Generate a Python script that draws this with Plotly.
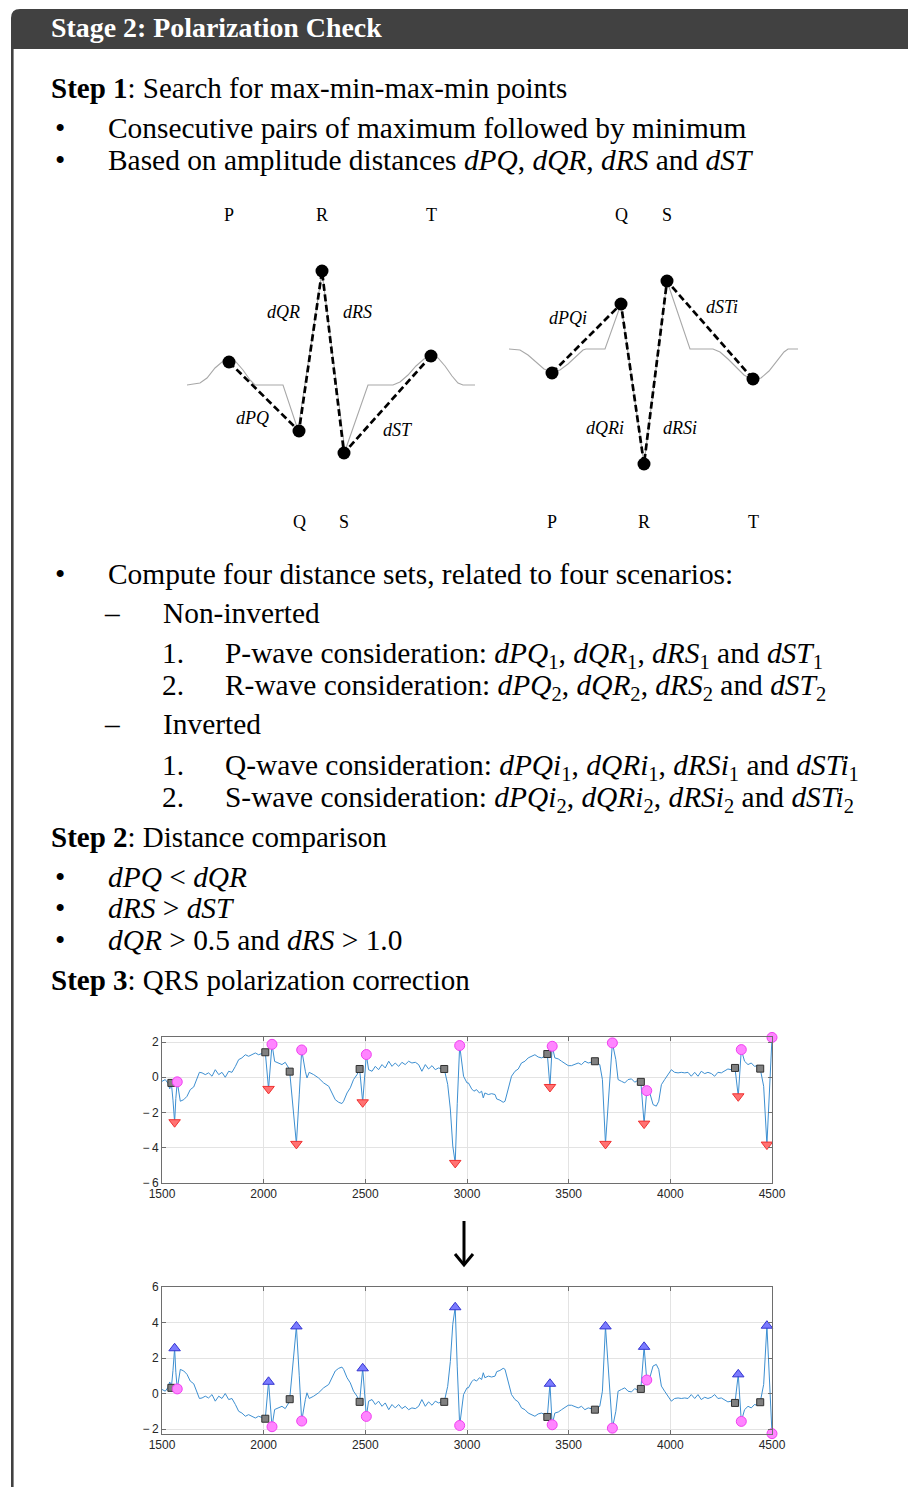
import plotly.graph_objects as go

W, H = 908, 1488
def PX(x): return min(1.0, max(0.0, x / W))
def PY(y): return min(1.0, max(0.0, 1 - y / H))

SERIF = "Liberation Serif"
SANS = "Liberation Sans"

# ---------------- ECG signal (top: original, bottom: corrected = inverted) ----------------
sig_x = [1500, 1516, 1530, 1538, 1543, 1546, 1554, 1562, 1568, 1575, 1590, 1607, 1623, 1639, 1656,
         1672, 1684, 1697, 1713, 1729, 1746, 1762, 1779, 1795, 1811, 1828, 1844, 1861, 1877, 1893,
         1910, 1926, 1943, 1959, 1975, 1992, 2008, 2024, 2041, 2054, 2074, 2090, 2106, 2123, 2128,
         2145, 2161, 2175, 2187, 2205, 2213, 2224, 2246, 2270, 2295, 2320, 2336, 2352, 2369, 2385,
         2393, 2410, 2426, 2442, 2459, 2472, 2487, 2505, 2516, 2533, 2549, 2565, 2582, 2598, 2615,
         2631, 2647, 2664, 2680, 2696, 2713, 2729, 2746, 2762, 2778, 2795, 2811, 2828, 2844, 2860,
         2877, 2888, 2905, 2918, 2930, 2942, 2952, 2964, 2983, 3000, 3007, 3023, 3034, 3047, 3061,
         3072, 3080, 3088, 3105, 3121, 3138, 3146, 3162, 3178, 3187, 3203, 3219, 3236, 3252, 3268,
         3285, 3301, 3318, 3334, 3350, 3367, 3383, 3395, 3408, 3419, 3432, 3449, 3465, 3481, 3498,
         3514, 3530, 3547, 3563, 3580, 3596, 3612, 3629, 3653, 3666, 3681, 3698, 3715, 3732, 3743,
         3760, 3776, 3792, 3809, 3825, 3841, 3855, 3871, 3884, 3899, 3915, 3931, 3943, 3956, 3972,
         3989, 4005, 4021, 4038, 4054, 4071, 4087, 4103, 4120, 4136, 4152, 4169, 4185, 4202, 4218,
         4234, 4251, 4267, 4283, 4300, 4318, 4334, 4349, 4365, 4382, 4398, 4414, 4427, 4442, 4459,
         4475, 4500]
sig_y = [-0.23, -0.13, -0.35, -0.65, -0.5, -0.32, -1.3, -2.55, -1.2, -0.26, -1.36, -1.27, -1.08, -0.7, -0.55,
         -0.13, 0.28, 0.25, 0.15, 0.25, 0.06, 0.43, 0.15, 0.28, 0.0, 0.34, 0.28, 0.62, 1.0, 1.1,
         1.28, 1.19, 1.28, 1.38, 1.28, 1.34, 1.42, -0.66, 1.87, 0.9, 0.81, 0.72, 0.85, 0.53, 0.32,
         -1.6, -3.78, -1.0, 1.55, 0.34, -0.04, 0.28, 0.15, -0.04, -0.32, -0.51, -0.89, -1.27, -1.42, -1.49,
         -1.36, -0.89, -0.6, -0.13, 0.15, 0.47, -1.42, 1.29, 0.43, 0.34, 0.62, 0.43, 0.72, 0.53, 0.91,
         0.62, 0.81, 0.62, 0.85, 0.72, 0.91, 0.81, 0.85, 0.72, 0.34, 0.72, 0.47, 0.66, 0.43, 0.53,
         0.47, 0.47, -0.4, -1.8, -3.9, -4.86, -1.5, 1.8, 0.06, -0.32, -0.32, -0.66, -0.79, -0.7, -0.89,
         -0.79, -1.17, -0.89, -0.98, -0.93, -0.98, -1.23, -1.3, -1.42, -1.36, -0.6, 0.06, 0.34, 0.47, 0.81,
         0.91, 1.1, 1.19, 1.28, 1.15, 1.1, 1.19, 1.32, -0.55, 1.76, 1.1, 1.04, 0.91, 0.81, 0.66,
         0.66, 0.72, 0.81, 0.72, 0.91, 0.81, 0.87, 0.91, 0.72, -0.13, -3.78, -1.0, 1.95, 1.0, -0.13,
         -0.23, -0.32, -0.13, -0.09, -0.28, -0.17, -0.26, -2.63, -0.76, -0.89, -1.55, -1.64, -1.36, -0.42, -0.13,
         0.15, 0.43, 0.28, 0.25, 0.28, 0.25, 0.28, 0.06, 0.28, 0.06, 0.34, 0.21, 0.28, 0.21, 0.06,
         0.28, 0.25, 0.34, 0.47, 0.43, 0.53, -1.08, 1.57, 0.91, 0.72, 0.81, 0.62, 0.66, 0.49, -0.51,
         -3.82, 2.26]

# detected fiducial positions (sample index)
sq_pos = [1546, 2008, 2128, 2472, 2888, 3395, 3629, 3855, 4318, 4442]
min_pos = [1562, 2024, 2161, 2487, 2942, 3408, 3681, 3871, 4334, 4475]
max_pos = [1575, 2041, 2187, 2505, 2964, 3419, 3715, 3884, 4349, 4500]

x_ticks = [1500, 2000, 2500, 3000, 3500, 4000, 4500]
y_ticks_top = [-6, -4, -2, 0, 2]
y_ticks_bot = [-2, 0, 2, 4, 6]

# ---------------- Schematic diagrams ----------------
d1_wave_t = [7, 20, 27, 35, 42, 49, 56, 63, 70, 75, 103, 118, 142, 165, 188, 213, 220, 228, 236, 244,
             251, 258, 265, 272, 278, 283, 295]
d1_wave_a = [0, 0.04, 0.14, 0.34, 0.46, 0.5, 0.46, 0.3, 0.1, 0, 0, -0.9, 2.26, -1.32, 0, 0, 0.06, 0.2, 0.38, 0.52,
             0.58, 0.54, 0.38, 0.18, 0.04, 0, 0]
d1_pt_t = [49, 119, 142, 164, 251]
d1_pt_a = [0.46, -0.92, 2.28, -1.36, 0.58]
d1_names = ["P", "Q", "R", "S", "T"]

d2_wave_t = [9, 20, 28, 36, 44, 52, 60, 68, 76, 83, 86, 105, 121, 144, 167, 190, 213, 220, 228, 236,
             244, 253, 261, 269, 277, 284, 288, 298]
d2_wave_a = [0, -0.02, -0.12, -0.26, -0.4, -0.46, -0.42, -0.3, -0.14, -0.02, 0, 0, 0.9, -2.3, 1.36, 0, 0, -0.06,
             -0.2, -0.36, -0.52, -0.62, -0.58, -0.44, -0.24, -0.06, 0, 0]
d2_pt_t = [52, 121, 144, 167, 253]
d2_pt_a = [-0.48, 0.9, -2.3, 1.36, -0.6]
d2_names = ["P", "Q", "R", "S", "T"]

fig = go.Figure()

# ---- ECG plots ----
val = dict(zip(sig_x, sig_y))

def add_ecg(xa, ya, sign, tri_symbol, tri_fill, tri_line):
    fig.add_trace(go.Scatter(x=sig_x, y=[sign * v for v in sig_y], mode="lines",
                             line=dict(color="#3d8fd1", width=1), xaxis=xa, yaxis=ya,
                             showlegend=False, hoverinfo="skip"))
    fig.add_trace(go.Scatter(x=sq_pos, y=[sign * val[p] for p in sq_pos], mode="markers",
                             marker=dict(symbol="square", size=7, color="#808080",
                                         line=dict(color="#303030", width=1)),
                             xaxis=xa, yaxis=ya, showlegend=False, cliponaxis=False))
    fig.add_trace(go.Scatter(x=min_pos, y=[sign * val[p] for p in min_pos], mode="markers",
                             marker=dict(symbol=tri_symbol, size=10, color=tri_fill,
                                         line=dict(color=tri_line, width=1)),
                             xaxis=xa, yaxis=ya, showlegend=False, cliponaxis=False))
    fig.add_trace(go.Scatter(x=max_pos, y=[sign * val[p] for p in max_pos], mode="markers",
                             marker=dict(symbol="circle", size=10, color="#ff85ff",
                                         line=dict(color="#f040f0", width=1)),
                             xaxis=xa, yaxis=ya, showlegend=False, cliponaxis=False))

add_ecg("x", "y", 1, "triangle-down", "#ff7272", "#f03030")
add_ecg("x2", "y2", -1, "triangle-up", "#7b7bff", "#3535d0")

# ---- schematic diagrams ----
for xa, ya, wt, wa, pt, pa in [("x3", "y3", d1_wave_t, d1_wave_a, d1_pt_t, d1_pt_a),
                                ("x4", "y4", d2_wave_t, d2_wave_a, d2_pt_t, d2_pt_a)]:
    fig.add_trace(go.Scatter(x=wt, y=wa, mode="lines", line=dict(color="#a8a8a8", width=1.1),
                             xaxis=xa, yaxis=ya, showlegend=False, hoverinfo="skip"))
    fig.add_trace(go.Scatter(x=pt, y=pa, mode="lines+markers",
                             line=dict(color="black", width=2.7, dash="7px,3.5px"),
                             marker=dict(color="black", size=13),
                             xaxis=xa, yaxis=ya, showlegend=False, hoverinfo="skip"))

axis_common = dict(showgrid=True, gridcolor="#e3e3e3", gridwidth=1, zeroline=False,
                   showline=True, linecolor="#6e6e6e", linewidth=1, mirror="ticks",
                   ticks="inside", ticklen=4, tickcolor="#6e6e6e", automargin=False,
                   tickfont=dict(family=SANS, size=12, color="#262626"))

def minus_lbl(v):
    return ("\u2212\u2009" + str(abs(v))) if v < 0 else str(v)

hidden = dict(visible=False, showgrid=False, zeroline=False, fixedrange=True)

fig.update_layout(
    width=W, height=H, margin=dict(l=0, r=0, t=0, b=0, pad=0, autoexpand=False),
    paper_bgcolor="white", plot_bgcolor="white", showlegend=False,
    xaxis=dict(domain=[PX(162), PX(772)], range=[1500, 4500], tickvals=x_ticks, anchor="y", **axis_common),
    yaxis=dict(domain=[PY(1183), PY(1037.1)], range=[-6, 2.28], tickvals=y_ticks_top,
               ticktext=[minus_lbl(v) for v in y_ticks_top], anchor="x", **axis_common),
    xaxis2=dict(domain=[PX(162), PX(772)], range=[1500, 4500], tickvals=x_ticks, anchor="y2", **axis_common),
    yaxis2=dict(domain=[PY(1434), PY(1287)], range=[-2.28, 6], tickvals=y_ticks_bot,
                ticktext=[minus_lbl(v) for v in y_ticks_bot], anchor="x2", **axis_common),
    xaxis3=dict(domain=[PX(180), PX(480)], range=[0, 300], anchor="y3", **hidden),
    yaxis3=dict(domain=[PY(540), PY(190)], range=[-3.1, 3.9], anchor="x3", **hidden),
    xaxis4=dict(domain=[PX(500), PX(810)], range=[0, 310], anchor="y4", **hidden),
    yaxis4=dict(domain=[PY(540), PY(190)], range=[-3.82, 3.18], anchor="x4", **hidden),
)

# ---------------- frame ----------------
r = 9
x0, x1, yt, yb = 11, 908, 9, 49
path = (f"M {PX(x0)},{PY(yb)} L {PX(x0)},{PY(yt + r)} Q {PX(x0)},{PY(yt)} {PX(x0 + r)},{PY(yt)} "
        f"L {PX(x1)},{PY(yt)} L {PX(x1)},{PY(yb)} Z")
fig.add_shape(type="path", path=path, xref="paper", yref="paper", fillcolor="#414141",
              line=dict(width=0), layer="below")
fig.add_shape(type="line", x0=PX(12.3), x1=PX(12.3), y0=PY(49), y1=PY(1487), xref="paper", yref="paper",
              line=dict(color="#414141", width=2.6))
# arrow between plots
fig.add_shape(type="line", x0=PX(464), x1=PX(464), y0=PY(1221), y1=PY(1264), xref="paper", yref="paper",
              line=dict(color="black", width=3))
fig.add_shape(type="path", path=f"M {PX(455)},{PY(1254)} L {PX(464)},{PY(1265)} L {PX(473)},{PY(1254)}",
              xref="paper", yref="paper", line=dict(color="black", width=3))

# ---------------- text ----------------
BODY = 29.4
STEP = 29.0
PAD = 3      # annotation inner padding compensation
SUBDY = 1.5  # lines with subscripts have a taller box; push them down to share the baseline
def txt(x, y, s, size=BODY, color="black", family=SERIF):
    fig.add_annotation(x=PX(x - PAD), y=PY(y), xref="paper", yref="paper", text=s, showarrow=False,
                       xanchor="left", yanchor="middle", font=dict(family=family, size=size, color=color))

def ctr(x, y, s, size=BODY):
    fig.add_annotation(x=PX(x), y=PY(y), xref="paper", yref="paper", text=s, showarrow=False,
                       xanchor="center", yanchor="middle", font=dict(family=SERIF, size=size, color="black"))

txt(52, 28, "<b>Stage 2: Polarization Check</b>", size=27.9, color="white")

txt(52, 88, "<b>Step 1</b>: Search for max-min-max-min points", size=STEP)
ctr(60, 128, "•"); txt(109, 128, "Consecutive pairs of maximum followed by minimum")
ctr(60, 160, "•"); txt(109, 160, "Based on amplitude distances <i>dPQ</i>, <i>dQR</i>, <i>dRS</i> and <i>dST</i>")
ctr(60, 574, "•"); txt(109, 574, "Compute four distance sets, related to four scenarios:")
ctr(112, 613, "–"); txt(164, 613, "Non-inverted")
txt(163, 653, "1."); txt(226, 653 + SUBDY, "P-wave consideration: <i>dPQ</i><sub>1</sub>, <i>dQR</i><sub>1</sub>, <i>dRS</i><sub>1</sub> and <i>dST</i><sub>1</sub>")
txt(163, 685, "2."); txt(226, 685 + SUBDY, "R-wave consideration: <i>dPQ</i><sub>2</sub>, <i>dQR</i><sub>2</sub>, <i>dRS</i><sub>2</sub> and <i>dST</i><sub>2</sub>")
ctr(112, 724, "–"); txt(164, 724, "Inverted")
txt(163, 765, "1."); txt(226, 765 + SUBDY, "Q-wave consideration: <i>dPQi</i><sub>1</sub>, <i>dQRi</i><sub>1</sub>, <i>dRSi</i><sub>1</sub> and <i>dSTi</i><sub>1</sub>")
txt(163, 797, "2."); txt(226, 797 + SUBDY, "S-wave consideration: <i>dPQi</i><sub>2</sub>, <i>dQRi</i><sub>2</sub>, <i>dRSi</i><sub>2</sub> and <i>dSTi</i><sub>2</sub>")
txt(52, 837, "<b>Step 2</b>: Distance comparison", size=STEP)
ctr(60, 877, "•"); txt(109, 877, "<i>dPQ</i> &lt; <i>dQR</i>")
ctr(60, 908, "•"); txt(109, 908, "<i>dRS</i> &gt; <i>dST</i>")
ctr(60, 940, "•"); txt(109, 940, "<i>dQR</i> &gt; 0.5 and <i>dRS</i> &gt; 1.0")
txt(52, 980, "<b>Step 3</b>: QRS polarization correction", size=STEP)

# diagram labels
def dlabel(xa, ya, x, y, s, italic=False):
    fig.add_annotation(x=x, y=y, xref=xa, yref=ya, text=(f"<i>{s}</i>" if italic else s), showarrow=False,
                       xanchor="center", yanchor="middle", font=dict(family=SERIF, size=18, color="black"))

top1, bot1 = 3.4, -2.74
for n, t, a in zip(d1_names, d1_pt_t, d1_pt_a):
    dlabel("x3", "y3", t, top1 if a > 0 else bot1, n)
dlabel("x3", "y3", 103, 1.46, "dQR", True)
dlabel("x3", "y3", 177, 1.46, "dRS", True)
dlabel("x3", "y3", 72, -0.66, "dPQ", True)
dlabel("x3", "y3", 218, -0.9, "dST", True)

top2, bot2 = 2.68, -3.46
for n, t, a in zip(d2_names, d2_pt_t, d2_pt_a):
    dlabel("x4", "y4", t, top2 if a > 0 else bot2, n)
dlabel("x4", "y4", 68, 0.62, "dPQi", True)
dlabel("x4", "y4", 222, 0.84, "dSTi", True)
dlabel("x4", "y4", 105, -1.58, "dQRi", True)
dlabel("x4", "y4", 180, -1.58, "dRSi", True)

fig.write_html("out.html", config={"displayModeBar": False},
               post_script="document.body.style.margin='0';")
